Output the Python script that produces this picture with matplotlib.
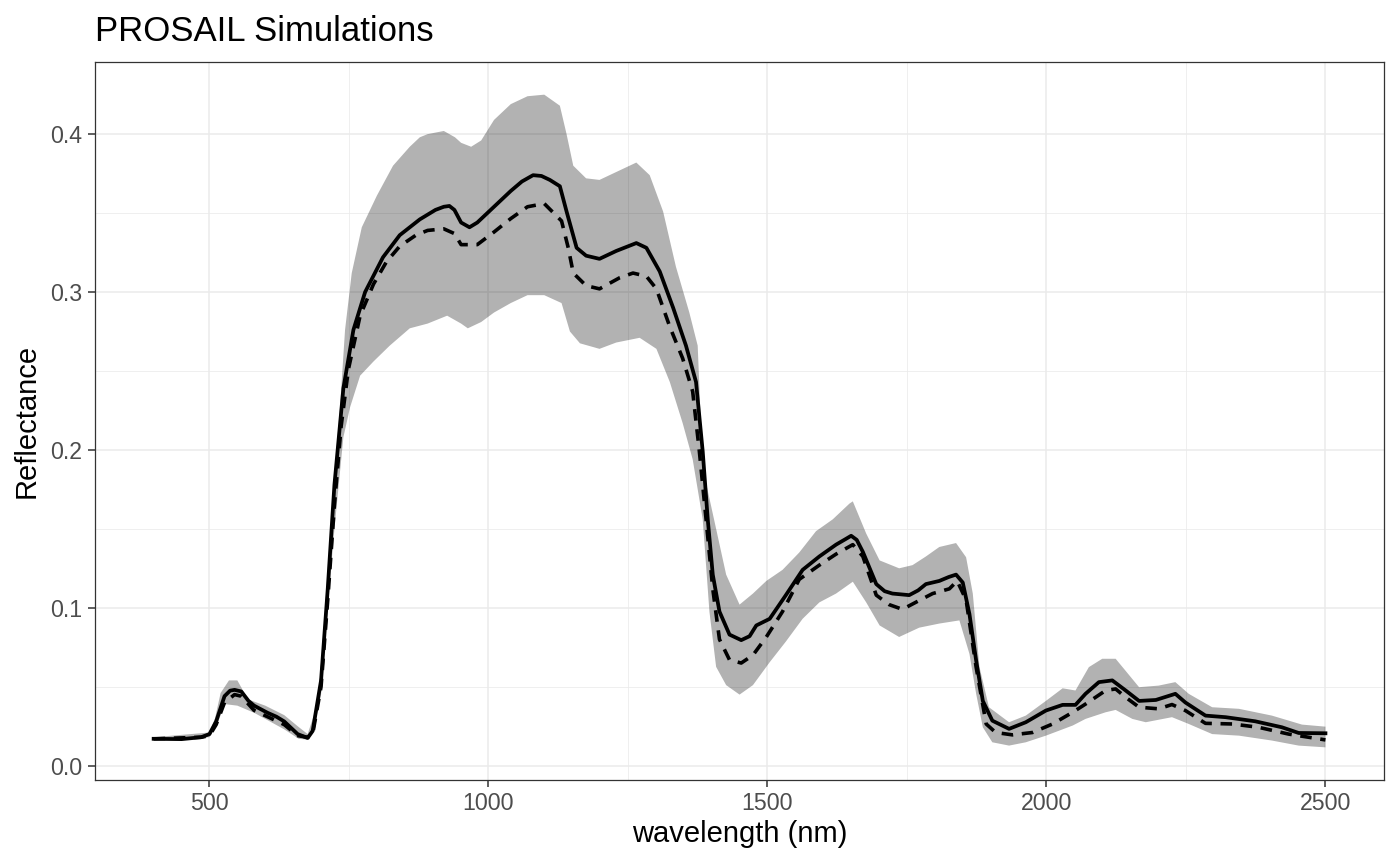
import numpy as np
import matplotlib
matplotlib.use("Agg")
from matplotlib import pyplot as plt
from matplotlib.ticker import MultipleLocator, FormatStrFormatter

# solid line (mean of simulations)
wl_mean = [400, 450, 485, 500, 512, 527, 537, 545, 557, 570, 580, 604, 620, 634, 658, 676,
           685, 700, 712, 724, 740, 758, 779, 811, 841, 877, 905, 920, 930, 939, 951, 966,
           980, 1010, 1040, 1060, 1080, 1095, 1110, 1128, 1140, 1158, 1175, 1199, 1229,
           1265, 1283, 1307, 1331, 1354, 1372, 1384, 1393, 1402, 1414, 1432, 1453, 1468,
           1480, 1504, 1533, 1563, 1593, 1623, 1640, 1650, 1660, 1671, 1695, 1710, 1724,
           1754, 1770, 1784, 1808, 1825, 1838, 1850, 1862, 1874, 1886, 1903, 1933, 1963,
           1999, 2029, 2052, 2070, 2094, 2118, 2142, 2166, 2196, 2231, 2249, 2285, 2321,
           2374, 2422, 2452, 2500]
refl_mean = [0.017, 0.0168, 0.018, 0.020, 0.028, 0.044, 0.0475, 0.048, 0.047, 0.041, 0.038,
             0.0335, 0.031, 0.028, 0.020, 0.0175, 0.022, 0.054, 0.112, 0.178, 0.239, 0.276,
             0.300, 0.322, 0.336, 0.346, 0.352, 0.354, 0.3545, 0.352, 0.344, 0.341, 0.344,
             0.354, 0.364, 0.370, 0.374, 0.3735, 0.371, 0.367, 0.351, 0.328, 0.323, 0.321,
             0.326, 0.331, 0.328, 0.313, 0.290, 0.266, 0.243, 0.199, 0.156, 0.121, 0.0976,
             0.083, 0.0795, 0.082, 0.0888, 0.093, 0.108, 0.124, 0.1325, 0.140, 0.1435,
             0.1456, 0.143, 0.1354, 0.115, 0.1105, 0.109, 0.108, 0.111, 0.115, 0.117, 0.1195,
             0.121, 0.116, 0.096, 0.0666, 0.041, 0.0285, 0.0233, 0.0275, 0.0349, 0.0385,
             0.0385, 0.0455, 0.0529, 0.054, 0.0476, 0.041, 0.0416, 0.0455, 0.040, 0.0317,
             0.0307, 0.0281, 0.0243, 0.0207, 0.0205]

# dashed line (median of simulations)
wl_median = [400, 485, 500, 512, 527, 545, 557, 580, 604, 634, 658, 676, 685, 700, 712, 724,
             736, 749, 770, 794, 817, 841, 870, 891, 920, 939, 951, 980, 1010, 1040, 1070,
             1100, 1131, 1143, 1152, 1175, 1199, 1235, 1259, 1283, 1301, 1325, 1348, 1366,
             1378, 1390, 1402, 1414, 1432, 1453, 1474, 1498, 1527, 1557, 1593, 1623, 1653,
             1671, 1695, 1718, 1742, 1766, 1796, 1826, 1840, 1856, 1874, 1892, 1909, 1939,
             1975, 2011, 2047, 2070, 2106, 2124, 2142, 2166, 2201, 2225, 2249, 2285, 2333,
             2380, 2434, 2500]
refl_median = [0.017, 0.018, 0.019, 0.026, 0.040, 0.045, 0.044, 0.035, 0.031, 0.026, 0.019,
               0.018, 0.020, 0.050, 0.105, 0.165, 0.215, 0.251, 0.285, 0.305, 0.319, 0.329,
               0.336, 0.339, 0.340, 0.337, 0.330, 0.330, 0.338, 0.3465, 0.354, 0.356, 0.345,
               0.328, 0.312, 0.304, 0.302, 0.309, 0.312, 0.310, 0.302, 0.278, 0.258, 0.237,
               0.199, 0.156, 0.112, 0.080, 0.067, 0.065, 0.070, 0.0815, 0.0976, 0.118, 0.127,
               0.134, 0.140, 0.1325, 0.108, 0.102, 0.099, 0.1035, 0.109, 0.112, 0.117, 0.105,
               0.0624, 0.0264, 0.021, 0.0195, 0.021, 0.0264, 0.0338, 0.039, 0.0476, 0.0486,
               0.0433, 0.037, 0.036, 0.0387, 0.0349, 0.0268, 0.0264, 0.0243, 0.020, 0.0163]

# ribbon upper edge
wl_upper = [400, 500, 510, 520, 535, 550, 569, 600, 634, 658, 676, 690, 700, 712, 724, 734,
            743, 755, 773, 800, 829, 859, 877, 891, 920, 940, 951, 969, 987, 1010, 1040,
            1070, 1100, 1128, 1140, 1152, 1175, 1199, 1229, 1265, 1289, 1313, 1336, 1360,
            1375, 1381, 1390, 1408, 1426, 1450, 1474, 1498, 1527, 1557, 1587, 1617, 1647,
            1653, 1677, 1701, 1736, 1760, 1784, 1808, 1838, 1856, 1868, 1880, 1897, 1933,
            1963, 1999, 2029, 2052, 2076, 2100, 2124, 2142, 2166, 2201, 2231, 2255, 2297,
            2345, 2404, 2458, 2500]
refl_upper = [0.018, 0.021, 0.030, 0.046, 0.054, 0.054, 0.042, 0.038, 0.032, 0.025, 0.020,
              0.035, 0.060, 0.125, 0.185, 0.227, 0.276, 0.312, 0.341, 0.361, 0.380, 0.392,
              0.398, 0.400, 0.402, 0.398, 0.3945, 0.392, 0.396, 0.409, 0.419, 0.424, 0.425,
              0.418, 0.400, 0.380, 0.372, 0.371, 0.376, 0.382, 0.374, 0.351, 0.316, 0.287,
              0.266, 0.214, 0.179, 0.150, 0.121, 0.102, 0.109, 0.117, 0.124, 0.135, 0.1485,
              0.156, 0.166, 0.1674, 0.147, 0.130, 0.125, 0.127, 0.1325, 0.1385, 0.141, 0.132,
              0.109, 0.0624, 0.037, 0.0275, 0.0317, 0.041, 0.049, 0.0476, 0.0624, 0.0677,
              0.0677, 0.060, 0.0497, 0.0507, 0.0529, 0.0455, 0.037, 0.036, 0.0317, 0.026,
              0.0247]

# ribbon lower edge
wl_lower = [400, 500, 515, 527, 550, 580, 634, 660, 676, 690, 700, 712, 724, 740, 752, 770,
            794, 823, 859, 891, 926, 951, 963, 987, 1010, 1040, 1070, 1100, 1131, 1146,
            1164, 1199, 1229, 1271, 1301, 1325, 1348, 1366, 1384, 1396, 1408, 1426, 1450,
            1474, 1504, 1533, 1563, 1593, 1623, 1653, 1677, 1701, 1736, 1772, 1808, 1844,
            1862, 1874, 1886, 1903, 1933, 1963, 1999, 2047, 2070, 2106, 2124, 2154, 2178,
            2225, 2255, 2297, 2345, 2404, 2452, 2500]
refl_lower = [0.016, 0.018, 0.027, 0.039, 0.038, 0.0335, 0.023, 0.017, 0.0165, 0.028, 0.045,
              0.100, 0.150, 0.208, 0.227, 0.247, 0.256, 0.266, 0.277, 0.280, 0.285, 0.280,
              0.277, 0.281, 0.287, 0.293, 0.298, 0.298, 0.293, 0.275, 0.2675, 0.264, 0.268,
              0.271, 0.264, 0.243, 0.217, 0.194, 0.156, 0.0976, 0.0626, 0.051, 0.045, 0.051,
              0.0655, 0.0786, 0.093, 0.1034, 0.109, 0.1165, 0.1034, 0.0888, 0.0815, 0.0874,
              0.090, 0.092, 0.0708, 0.0455, 0.0243, 0.0148, 0.0127, 0.0148, 0.019, 0.0254,
              0.0296, 0.0338, 0.0353, 0.0296, 0.0275, 0.0307, 0.0264, 0.020, 0.019, 0.0159,
              0.0127, 0.0116]

plt.rcParams['font.family'] = ['Liberation Sans', 'DejaVu Sans']

fig = plt.figure(figsize=(14, 8.65), dpi=100)
ax = fig.add_axes([0.0679, 0.0983, 0.9207, 0.830])

ax.fill(np.concatenate([wl_upper, wl_lower[::-1]]),
        np.concatenate([refl_upper, refl_lower[::-1]]),
        color='black', alpha=0.3, lw=0, zorder=2)
ax.plot(wl_mean, refl_mean, color='black', lw=2.7, solid_joinstyle='round', zorder=3)
ax.plot(wl_median, refl_median, color='black', lw=2.6, dashes=(3.2, 2.4),
        dash_joinstyle='round', zorder=3)

ax.margins(x=0.05, y=0.05)
ax.xaxis.set_major_locator(MultipleLocator(500))
ax.xaxis.set_minor_locator(MultipleLocator(250))
ax.yaxis.set_major_locator(MultipleLocator(0.1))
ax.yaxis.set_minor_locator(MultipleLocator(0.05))
ax.yaxis.set_major_formatter(FormatStrFormatter('%.1f'))

ax.grid(which='major', color='#EBEBEB', lw=1.1, zorder=0)
ax.grid(which='minor', color='#EBEBEB', lw=0.55, zorder=0)
ax.set_axisbelow(True)
for s in ax.spines.values():
    s.set_color('#333333')
    s.set_linewidth(0.9)

ax.tick_params(which='major', length=5.0, width=1.1, color='#333333',
               labelsize=16.7, labelcolor='#4D4D4D', pad=4)
ax.tick_params(which='minor', length=0)

ax.set_xlabel('wavelength (nm)', fontsize=21, color='black', labelpad=3)
ax.set_ylabel('Reflectance', fontsize=21, color='black', labelpad=7)
ax.set_title('PROSAIL Simulations', loc='left', fontsize=25, color='black', pad=15)

fig.savefig('out.png', dpi=100)
